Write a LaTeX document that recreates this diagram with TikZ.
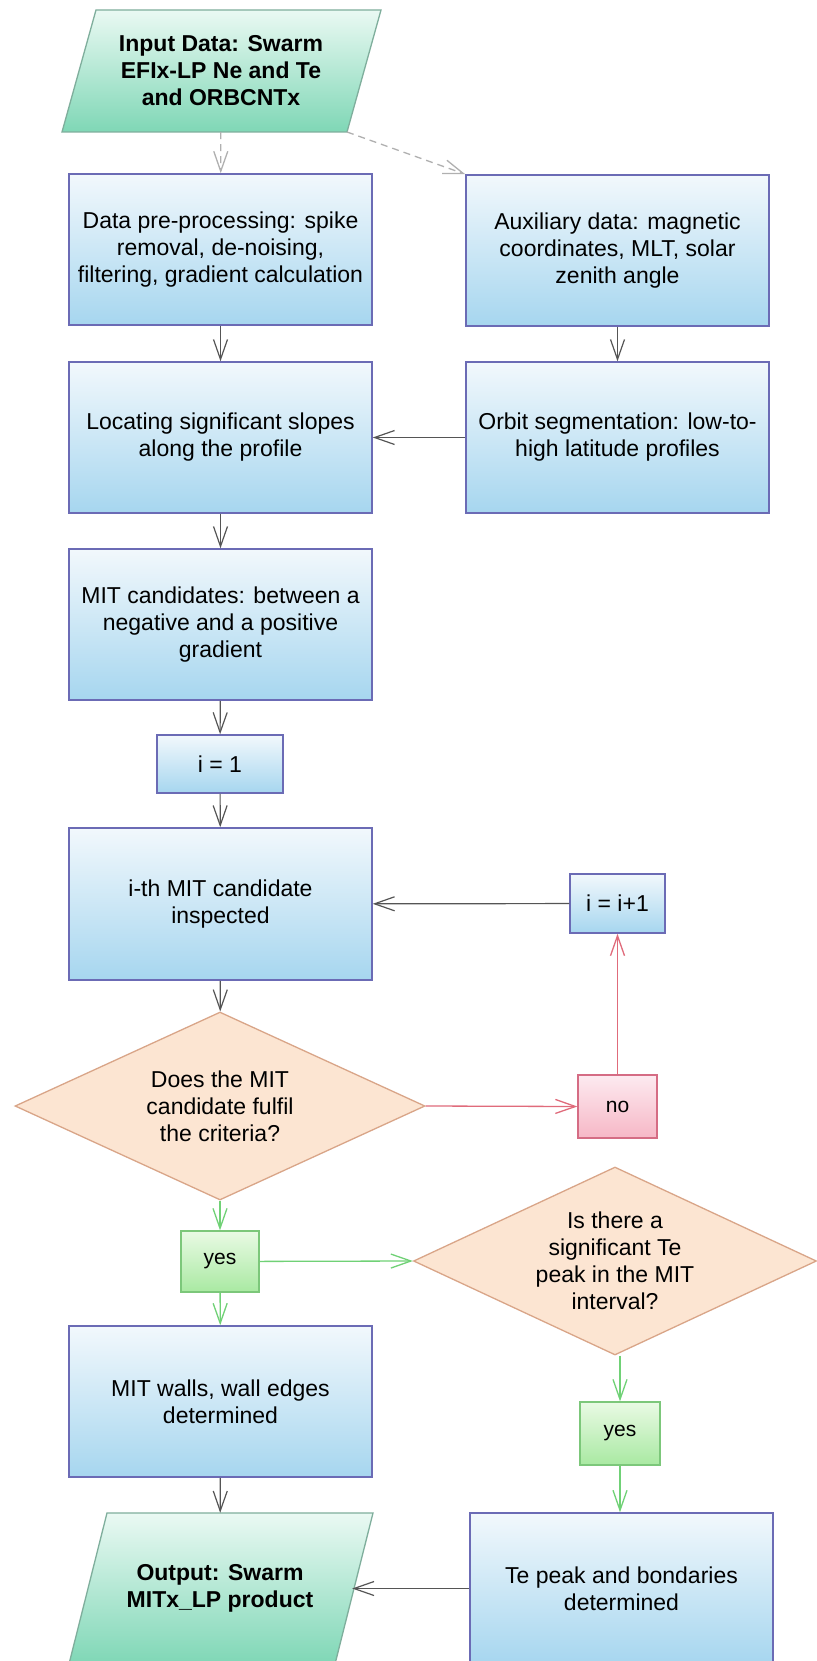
\documentclass[tikz,border=0pt]{standalone}
\usepackage{fontspec}
\setmainfont{Liberation Sans}
\usetikzlibrary{arrows.meta,shapes.geometric}

\definecolor{bluetop}{HTML}{F2F8FC}
\definecolor{bluebot}{HTML}{A6D6EF}
\definecolor{blueborder}{HTML}{6B6BB5}
\definecolor{iotop}{HTML}{EAF9F3}
\definecolor{iobot}{HTML}{7FD7B6}
\definecolor{ioborder}{HTML}{7FAE9C}
\definecolor{peach}{HTML}{FCE5D2}
\definecolor{peachborder}{HTML}{D9A588}
\definecolor{pinktop}{HTML}{FDEAF0}
\definecolor{pinkbot}{HTML}{F6B7C6}
\definecolor{pinkborder}{HTML}{D56C84}
\definecolor{ygtop}{HTML}{E9FAE4}
\definecolor{ygbot}{HTML}{A9E9A2}
\definecolor{ygborder}{HTML}{7CC77A}
\definecolor{arrgray}{HTML}{555555}
\definecolor{dashgray}{HTML}{B0B0B0}
\definecolor{arrred}{HTML}{E06B7B}
\definecolor{arrgreen}{HTML}{70D176}

\tikzset{
  box/.style={draw=blueborder, line width=1.5pt, top color=bluetop, bottom color=bluebot,
    align=center, inner sep=0pt, minimum width=303pt, minimum height=151pt,
    font=\fontsize{23}{27}\selectfont},
  smallbox/.style={box, minimum width=#1, minimum height=59pt},
  decision/.style={diamond, shape aspect=2.15, draw=peachborder, line width=1.3pt, fill=peach, align=center,
    inner sep=0pt, minimum width=410pt, minimum height=188pt, font=\fontsize{23}{27}\selectfont},
  nobox/.style={draw=pinkborder, line width=1.3pt, top color=pinktop, bottom color=pinkbot,
    align=center, minimum width=79pt, minimum height=63pt, font=\fontsize{21}{25}\selectfont},
  yesbox/.style={draw=ygborder, line width=1.3pt, top color=ygtop, bottom color=ygbot,
    align=center, minimum width=#1, minimum height=62pt, font=\fontsize{21}{25}\selectfont},
  iofill/.style={draw=ioborder, line width=1.3pt, top color=iotop, bottom color=iobot},
  iotext/.style={align=center, inner sep=0pt, font=\fontsize{23}{27}\selectfont\bfseries},
  tip/.style={-{Straight Barb[length=20pt,width=14pt]}},
  conn/.style={draw=arrgray, line width=1.2pt, tip},
  dconn/.style={draw=dashgray, line width=1.3pt, dash pattern=on 7pt off 5pt, tip},
  rconn/.style={draw=arrred, line width=1.3pt, tip},
  gconn/.style={draw=arrgreen, line width=1.3pt, tip},
}

\begin{document}
\begin{tikzpicture}[x=1pt,y=-1pt]
\fill[white] (0,0) rectangle (816,1661);
\useasboundingbox (0,0) rectangle (816,1661);

% input / output parallelograms
\path[iofill] (96,10) -- (381,10) -- (347,132) -- (62,132) -- cycle;
\node[iotext, minimum width=285pt, minimum height=122pt] (inp) at (221,71)
  {Input Data: Swarm\\EFIx-LP Ne and Te\\and ORBCNTx};
\coordinate (inpBR) at (347,132);

\path[iofill] (107,1513) -- (373,1513) -- (335,1664) -- (69,1664) -- cycle;
\node[iotext, minimum width=264pt, minimum height=151pt] (out) at (220,1588.5)
  {Output: Swarm\\MITx\_LP product};

% left column
\node[box] (data) at (220.5,249.5) {Data pre-processing: spike\\removal, de-noising,\\filtering, gradient calculation};
\node[box] (loc) at (220.5,437.5) {Locating significant slopes\\along the profile};
\node[box] (mitc) at (220.5,624.5) {MIT candidates: between a\\negative and a positive\\gradient};
\node[smallbox=126pt, minimum height=58pt] (i1) at (220,764) {i = 1};
\node[box, minimum height=152pt] (ith) at (220.5,904) {i-th MIT candidate\\inspected};
\node[decision] (dia1) at (220,1106) {Does the MIT\\candidate fulfil\\the criteria?};
\node[yesbox=78pt, minimum height=61pt] (yes1) at (220,1261.5) {yes};
\node[box] (walls) at (220.5,1401.5) {MIT walls, wall edges\\determined};

% right column
\node[box] (aux) at (617.5,250.5) {Auxiliary data: magnetic\\coordinates, MLT, solar\\zenith angle};
\node[box] (orbit) at (617.5,437.5) {Orbit segmentation: low-to-\\high latitude profiles};
\node[smallbox=95pt] (iinc) at (617.5,903.5) {i = i+1};
\node[nobox] (no) at (617.5,1106.5) {no};
\node[decision, minimum width=403pt] (dia2) at (615,1261) {Is there a\\significant Te\\peak in the MIT\\interval?};
\node[yesbox=80pt, minimum height=63pt] (yes2) at (620,1433.5) {yes};
\node[box] (te) at (621.5,1588.5) {Te peak and bondaries\\determined};

% connectors
\draw[dconn] (inp) -- (data);
\draw[dconn] (inpBR) -- (aux.north west);
\draw[conn] (data) -- (loc);
\draw[conn] (aux) -- (orbit);
\draw[conn] (orbit) -- (loc);
\draw[conn] (loc) -- (mitc);
\draw[conn] (mitc) -- (i1);
\draw[conn] (i1) -- (ith);
\draw[conn] (ith) -- (dia1);
\draw[conn] (iinc) -- (ith);
\draw[rconn] (dia1.east) -- (no.west);
\draw[rconn] (no) -- (iinc);
\draw[gconn] (dia1.south) -- (yes1.north);
\draw[gconn] (yes1) -- (dia2.west);
\draw[gconn] (yes1) -- (walls);
\draw[conn] (walls) -- (out);
\draw[gconn] (dia2.south -| yes2.north) -- (yes2.north);
\draw[gconn] (yes2) -- (te.north -| yes2.south);
\draw[conn] (te.west) -- (out.east);
\end{tikzpicture}
\end{document}
